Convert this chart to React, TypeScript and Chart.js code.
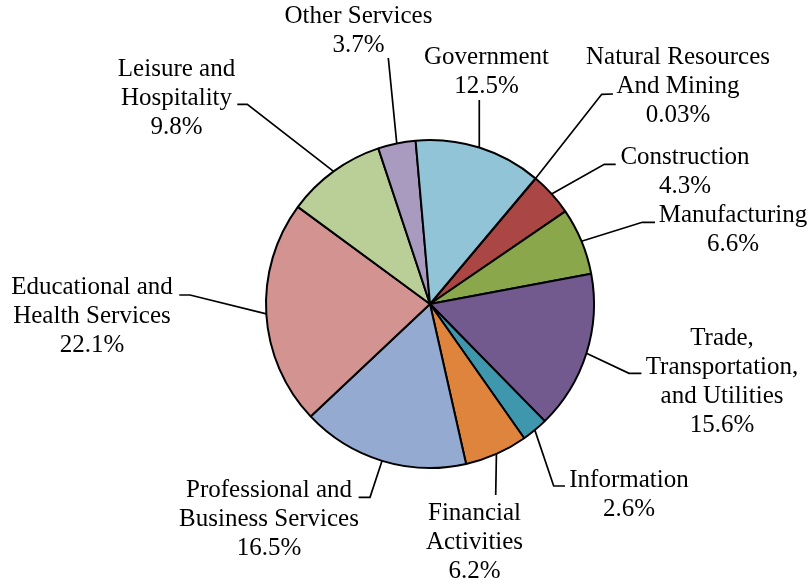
import React, { useEffect, useRef } from "react";
import { Chart, registerables } from "chart.js";

Chart.register(...registerables);

// ---- data ----
const categories: string[] = [
  "Natural Resources And Mining",
  "Construction",
  "Manufacturing",
  "Trade, Transportation, and Utilities",
  "Information",
  "Financial Activities",
  "Professional and Business Services",
  "Educational and Health Services",
  "Leisure and Hospitality",
  "Other Services",
  "Government",
];
const shares: number[] = [0.03, 4.3, 6.6, 15.6, 2.6, 6.2, 16.5, 22.1, 9.8, 3.7, 12.5];

// wrapped label text (same order as categories)
const labelLines: string[][] = [
  ["Natural Resources", "And Mining"],
  ["Construction"],
  ["Manufacturing"],
  ["Trade,", "Transportation,", "and Utilities"],
  ["Information"],
  ["Financial", "Activities"],
  ["Professional and", "Business Services"],
  ["Educational and", "Health Services"],
  ["Leisure and", "Hospitality"],
  ["Other Services"],
  ["Government"],
];

// ---- styles / layout ----
const sliceColors: string[] = [
  "#4A76AE",
  "#AA4644",
  "#8BA74C",
  "#725A8F",
  "#3F97AE",
  "#DF843C",
  "#95AAD1",
  "#D39391",
  "#BACE97",
  "#A99BBF",
  "#92C4D7",
];

// [textCenterX, firstBaselineY, elbowX, elbowY, endX, endY]
const labelLayout: number[][] = [
  [678, 64, 601.7, 94.3, 613, 94],
  [685, 164, 604.3, 164.3, 615.7, 164.3],
  [733, 221.7, 642.3, 222.3, 655, 222.3],
  [722, 345, 629, 373.3, 641.4, 373.3],
  [629, 486.7, 553.7, 486, 565, 486],
  [474.5, 520, 495.7, 495, 495.7, 495],
  [269, 496.7, 370, 497.3, 358.6, 497.3],
  [92, 294, 190, 295, 179.3, 295],
  [176.5, 76, 247.3, 104.3, 237.3, 104.3],
  [358.5, 23.3, 388.3, 58, 388.3, 58],
  [486.5, 64, 479.3, 100, 479.3, 100],
];

const LINE_H = 28.9;
const FONT = '25px "Liberation Serif", "Times New Roman", "DejaVu Serif", serif';

const labelPlugin = {
  id: "outerLabels",
  afterDraw(chart: any) {
    const ctx = chart.ctx as CanvasRenderingContext2D;
    const meta = chart.getDatasetMeta(0);
    ctx.save();
    meta.data.forEach((arc: any, i: number) => {
      const { x, y, startAngle, endAngle, outerRadius } = arc.getProps(
        ["x", "y", "startAngle", "endAngle", "outerRadius"],
        true
      );
      const mid = (startAngle + endAngle) / 2;
      const sx = x + Math.cos(mid) * outerRadius;
      const sy = y + Math.sin(mid) * outerRadius;
      const [tx, ty, ex, ey, fx, fy] = labelLayout[i];
      ctx.strokeStyle = "#000";
      ctx.lineWidth = 1.7;
      ctx.beginPath();
      ctx.moveTo(sx, sy);
      ctx.lineTo(ex, ey);
      ctx.lineTo(fx, fy);
      ctx.stroke();

      ctx.fillStyle = "#000";
      ctx.font = FONT;
      ctx.textAlign = "center";
      ctx.textBaseline = "alphabetic";
      const lines = [...labelLines[i], `${shares[i]}%`];
      lines.forEach((t, k) => ctx.fillText(t, tx, ty + k * LINE_H));
    });
    ctx.restore();
  },
};

export default function App() {
  const ref = useRef<HTMLCanvasElement | null>(null);
  useEffect(() => {
    let chart: Chart | null = null;
    let cancelled = false;
    const make = () => {
      if (cancelled || !ref.current) return;
      chart = new Chart(ref.current, {
        type: "pie",
        data: {
          labels: categories,
          datasets: [
            {
              data: shares,
              backgroundColor: sliceColors,
              borderColor: "#000",
              borderWidth: 2,
              borderAlign: "center",
            },
          ],
        },
        options: {
          animation: false,
          responsive: false,
          devicePixelRatio: 1,
          rotation: 40,
          radius: 164,
          layout: { padding: { left: 266, right: 218, top: 140, bottom: 116 } },
          plugins: {
            legend: { display: false },
            tooltip: { enabled: false },
          },
        } as any,
        plugins: [labelPlugin],
      });
    };
    const fonts: any = (document as any).fonts;
    if (fonts && fonts.load) {
      fonts.load('25px "Liberation Serif"').then(make, make);
    } else {
      make();
    }
    return () => {
      cancelled = true;
      if (chart) chart.destroy();
    };
  }, []);
  return (
    <div style={{ position: "absolute", left: 0, top: 0, width: 812, height: 584, background: "#fff" }}>
      <canvas ref={ref} width={812} height={584} />
    </div>
  );
}
